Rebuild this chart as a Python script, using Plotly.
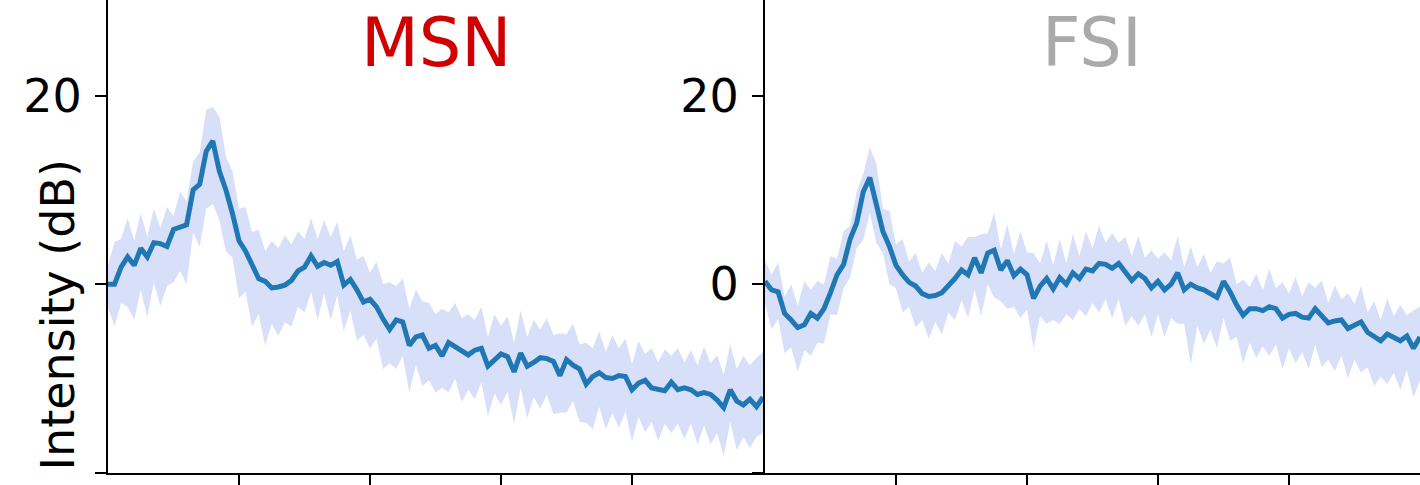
import plotly.graph_objects as go

# x grid (arbitrary frequency units, 0..50 per panel, step 0.5)
x_vals = [i * 0.5 for i in range(101)]

msn_mean = [0.0, 0.0, 1.8, 2.9, 2.0, 3.8, 2.9, 4.4, 4.3, 4.0,
            5.8, 6.0, 6.3, 10.0, 10.6, 14.1, 15.2, 12.0, 10.0, 7.5,
            4.6, 3.5, 2.0, 0.6, 0.3, -0.4, -0.3, -0.1, 0.4, 1.4,
            1.8, 3.0, 1.9, 2.3, 2.0, 2.4, -0.1, 0.5, -0.6, -1.9,
            -1.6, -2.4, -3.7, -4.8, -3.8, -4.0, -6.5, -5.6, -5.4, -6.8,
            -6.5, -7.6, -6.2, -6.6, -7.0, -7.5, -7.0, -6.8, -8.7, -8.0,
            -7.4, -7.7, -9.3, -7.3, -8.7, -8.3, -7.8, -7.9, -8.2, -9.7,
            -8.0, -8.6, -9.0, -10.6, -9.8, -9.4, -9.9, -10.0, -9.7, -9.8,
            -11.2, -10.5, -10.2, -11.0, -11.2, -11.3, -10.4, -11.2, -11.0, -11.2,
            -11.7, -11.5, -11.7, -12.3, -13.1, -11.2, -12.4, -12.8, -12.2, -13.0,
            -12.0]
msn_upper = [2.0, 4.5, 4.8, 7.0, 4.6, 7.5, 5.0, 8.0, 6.0, 8.2,
             7.2, 9.8, 8.8, 13.0, 14.0, 18.5, 18.8, 17.8, 13.5, 12.0,
             8.0, 8.2, 5.5, 5.8, 3.5, 4.6, 3.8, 5.2, 4.2, 5.6,
             4.8, 7.0, 4.8, 6.8, 5.0, 6.6, 3.5, 5.2, 2.6, 3.0,
             1.2, 2.4, 0.0, 0.2, -0.2, 0.6, -2.6, -0.6, -1.8, -2.0,
             -3.2, -2.6, -3.0, -2.0, -3.6, -3.2, -3.8, -2.4, -5.6, -3.2,
             -4.4, -3.4, -6.2, -2.8, -5.6, -3.8, -4.8, -3.6, -5.4, -5.2,
             -5.3, -4.2, -6.4, -6.2, -6.8, -5.0, -7.2, -5.4, -6.8, -5.8,
             -8.5, -6.0, -7.4, -6.8, -8.3, -6.9, -7.6, -6.8, -8.3, -7.0,
             -8.6, -6.6, -8.4, -7.5, -9.6, -6.4, -9.0, -7.6, -8.6, -7.8,
             -7.2]
msn_lower = [-2.5, -4.5, -2.0, -2.4, -3.8, -0.6, -3.5, 0.2, -2.3, -0.2,
             0.2, 1.4, 0.0, 5.5, 4.0, 8.0, 8.5, 6.8, 3.5, 2.8,
             -1.5, -0.8, -4.5, -3.2, -6.5, -4.2, -5.5, -4.0, -4.5, -2.4,
             -3.0, -0.8, -3.8, -1.0, -3.8, -1.2, -5.0, -2.8, -6.0, -5.4,
             -6.8, -5.8, -9.0, -8.4, -9.0, -7.6, -11.5, -8.6, -10.8, -10.2,
             -11.5, -11.0, -11.5, -10.0, -12.5, -11.2, -12.2, -10.4, -14.0, -11.6,
             -12.8, -11.4, -14.8, -11.0, -14.2, -12.0, -13.2, -11.7, -13.8, -13.6,
             -13.6, -12.4, -14.6, -14.7, -15.4, -13.0, -15.4, -13.7, -15.2, -13.5,
             -16.7, -14.1, -15.7, -14.6, -16.6, -14.8, -15.8, -14.8, -16.4, -14.8,
             -17.0, -15.0, -17.0, -15.8, -18.2, -14.6, -17.6, -16.2, -17.4, -16.2,
             -15.8]

fsi_mean = [0.3, -0.6, -0.8, -3.1, -3.8, -4.6, -4.3, -3.1, -3.6, -2.6,
            -0.9, 1.0, 2.1, 4.8, 6.5, 9.8, 11.3, 8.7, 5.6, 4.0,
            2.0, 1.0, 0.2, -0.2, -1.0, -1.3, -1.2, -0.9, -0.2, 0.6,
            1.5, 1.0, 2.8, 1.2, 3.3, 3.6, 1.5, 2.5, 0.9, 1.6,
            1.0, -1.5, -0.2, 0.6, -0.5, 0.7, 0.0, 1.2, 0.6, 1.6,
            1.4, 2.2, 2.1, 1.7, 2.2, 1.2, 0.4, 1.1, 0.6, -0.4,
            0.3, -0.6, 0.0, 1.2, -0.6, 0.0, -0.4, -0.6, -1.0, -1.4,
            0.3, -0.8, -2.2, -3.3, -2.6, -2.6, -2.8, -2.4, -2.6, -3.6,
            -3.2, -3.1, -3.5, -3.6, -2.6, -3.4, -4.1, -3.9, -3.8, -4.7,
            -4.3, -4.0, -5.1, -5.6, -6.0, -5.3, -5.6, -6.0, -5.5, -6.8,
            -5.6]
fsi_upper = [2.5, 1.0, 2.3, -1.3, 0.0, -2.3, 0.3, -0.6, 0.3, 0.0,
             3.0, 2.7, 5.6, 6.2, 9.8, 11.7, 14.5, 12.8, 8.0, 7.8,
             4.2, 4.8, 2.4, 3.3, 1.2, 2.3, 1.4, 3.3, 2.2, 4.6,
             4.0, 5.0, 5.0, 5.3, 5.4, 7.6, 3.7, 6.3, 3.2, 5.6,
             3.4, 3.3, 2.2, 4.6, 2.0, 4.8, 2.2, 5.3, 3.0, 5.6,
             3.8, 6.2, 4.4, 5.4, 4.4, 5.0, 3.0, 5.1, 2.8, 3.6,
             2.7, 3.4, 2.5, 5.1, 1.8, 4.0, 1.8, 3.2, 1.2, 2.4,
             2.2, 2.8, 0.0, 0.5, -0.3, 1.1, -0.6, 1.6, -0.4, 0.2,
             -1.0, 0.8, -1.3, 0.2, -0.4, 0.4, -2.0, -0.1, -1.6, -1.0,
             -2.1, -0.2, -3.0, -1.8, -3.8, -1.5, -3.4, -2.2, -3.3, -2.8,
             -2.4]
fsi_lower = [-2.0, -4.8, -3.7, -7.3, -6.7, -9.3, -7.0, -7.6, -6.2, -6.3,
             -3.2, -3.3, -0.4, 0.7, 3.8, 4.7, 7.6, 4.4, 3.3, 0.0,
             -0.4, -3.0, -2.4, -4.6, -3.8, -5.8, -4.0, -5.3, -3.0, -3.8,
             -1.7, -3.6, -0.6, -3.4, 0.0, -1.4, -1.8, -2.6, -2.4, -3.6,
             -2.7, -6.8, -3.4, -4.2, -3.8, -4.2, -3.2, -3.8, -2.6, -3.4,
             -2.0, -3.0, -1.6, -3.6, -1.6, -4.4, -3.4, -4.4, -3.2, -5.6,
             -3.2, -5.6, -3.6, -4.2, -4.2, -8.5, -4.4, -6.3, -4.8, -6.8,
             -3.6, -6.0, -5.6, -8.4, -6.2, -7.8, -6.6, -7.6, -6.4, -9.0,
             -6.8, -8.4, -7.2, -9.0, -6.4, -8.8, -8.0, -9.2, -7.6, -10.0,
             -8.0, -9.4, -8.8, -10.8, -9.8, -10.6, -9.4, -11.2, -9.1, -12.0,
             -10.2]

panel_titles = ["MSN", "FSI"]
title_colors = ["#d00000", "#aaaaaa"]
y_tickvals = [-20, 0, 20]
y_ticktext_left = ["", "", "20"]
y_ticktext_right = ["", "0", "20"]
x_tickvals = [10, 20, 30, 40]

W, H = 1420, 485
FONT = "DejaVu Sans"
LINE_C = "#1f77b4"
FILL_C = "rgba(65,105,225,0.21)"

fig = go.Figure()
panels = [(msn_mean, msn_upper, msn_lower, "x", "y"),
          (fsi_mean, fsi_upper, fsi_lower, "x2", "y2")]
for mean, up, lo, xa, ya in panels:
    fig.add_trace(go.Scatter(x=x_vals + x_vals[::-1], y=up + lo[::-1],
                             fill="toself", fillcolor=FILL_C,
                             line=dict(width=0), mode="lines",
                             hoverinfo="skip", showlegend=False,
                             xaxis=xa, yaxis=ya))
    fig.add_trace(go.Scatter(x=x_vals, y=mean, mode="lines",
                             line=dict(color=LINE_C, width=5),
                             showlegend=False, xaxis=xa, yaxis=ya))

x_domains = [[108 / W, 763 / W], [765 / W, 1420 / W]]
y_domain = [(H - 472.7) / H, 1.0]

def xaxis_cfg(dom, anchor):
    return dict(domain=dom, range=[0, 50], anchor=anchor,
                showline=True, linecolor="black", linewidth=2,
                ticks="outside", ticklen=12, tickwidth=2, tickcolor="black",
                tickvals=x_tickvals, showticklabels=False,
                showgrid=False, zeroline=False)

def yaxis_cfg(anchor, ticktext):
    return dict(domain=y_domain, range=[-20, 30.15], anchor=anchor,
                showline=True, linecolor="black", linewidth=2,
                ticks="outside", ticklen=11, tickwidth=2, tickcolor="black",
                tickvals=y_tickvals, ticktext=ticktext,
                tickfont=dict(family=FONT, size=46, color="black"),
                ticklabelstandoff=4,
                showgrid=False, zeroline=False)

annotations = []
for i, (t, c) in enumerate(zip(panel_titles, title_colors)):
    cx = (x_domains[i][0] + x_domains[i][1]) / 2
    annotations.append(dict(text=t, xref="paper", yref="paper",
                            x=cx, y=1 - 43 / H, xanchor="center", yanchor="middle",
                            showarrow=False,
                            font=dict(family=FONT, size=67, color=c)))
annotations.append(dict(text="Intensity (dB)", xref="paper", yref="paper",
                        x=57 / W, y=(H - 314.5) / H, xanchor="center", yanchor="middle",
                        textangle=-90, showarrow=False,
                        font=dict(family=FONT, size=46, color="black")))

fig.update_layout(
    width=W, height=H,
    margin=dict(l=0, r=0, t=0, b=0),
    paper_bgcolor="white", plot_bgcolor="white",
    xaxis=xaxis_cfg(x_domains[0], "y"),
    xaxis2=xaxis_cfg(x_domains[1], "y2"),
    yaxis=yaxis_cfg("x", y_ticktext_left),
    yaxis2=yaxis_cfg("x2", y_ticktext_right),
    annotations=annotations,
    showlegend=False,
)

fig.write_html("out.html",
               config={"displayModeBar": False},
               post_script="document.body.style.margin='0px';"
                           "document.body.style.overflow='hidden';")
